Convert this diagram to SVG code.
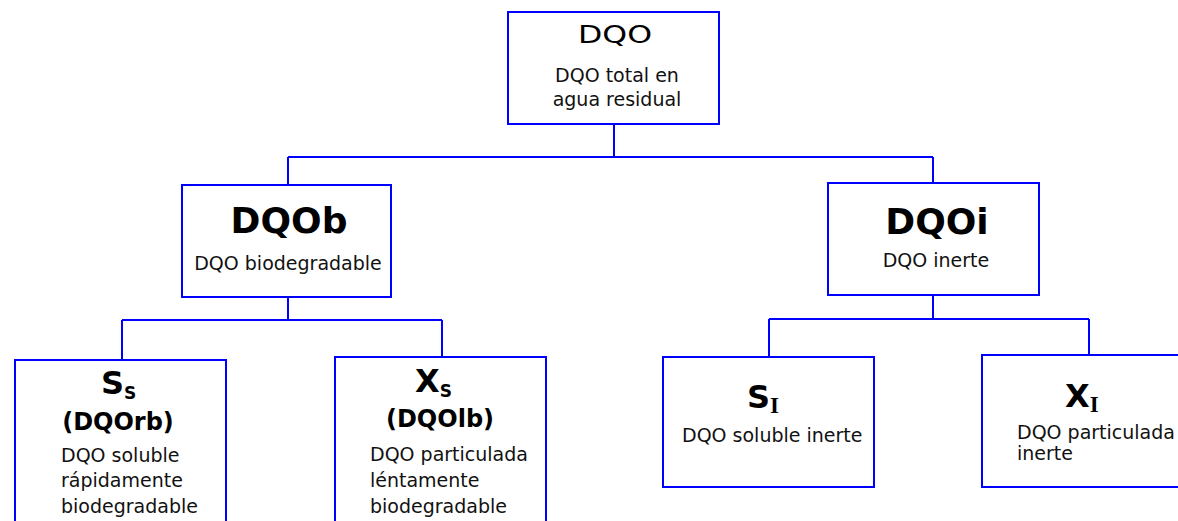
<svg xmlns="http://www.w3.org/2000/svg" width="1178" height="521" viewBox="0 0 1178 521">
<style>
.box{fill:#fff;stroke:#0000ff;stroke-width:2}
.ln{fill:none;stroke:#0000ff;stroke-width:2}
.t{font-family:"DejaVu Sans",Verdana,sans-serif;font-size:19px;fill:#111}
.big{font-family:"DejaVu Sans",Verdana,sans-serif;font-size:36px;font-weight:bold;fill:#000;text-anchor:middle}
.mid{font-family:"DejaVu Sans",Verdana,sans-serif;font-size:24px;font-weight:bold;fill:#000;text-anchor:middle}
.sym{font-family:"DejaVu Sans",Verdana,sans-serif;font-size:32px;font-weight:bold;fill:#000}
.sub{font-family:"DejaVu Sans",Verdana,sans-serif;font-size:17px;font-weight:bold;fill:#000}
.subI{font-family:"Liberation Serif","Times New Roman",serif;font-size:23px;font-weight:bold;fill:#000}
.c{text-anchor:middle}
</style>
<rect width="1178" height="521" fill="#fff"/>
<g id="connectors">
<path class="ln" d="M614 124 V157 M288 157 H933 M288 157 V185 M933 157 V183"/>
<path class="ln" d="M288 297 V320 M122 320 H442 M122 320 V360 M442 320 V357"/>
<path class="ln" d="M933 295 V319 M769 319 H1089 M769 319 V357 M1089 319 V355"/>
</g>
<g id="dqo">
<rect class="box" x="508" y="12" width="211" height="112"/>
<text x="615" y="43" font-family="DejaVu Sans,Verdana,sans-serif" font-size="25" fill="#000" text-anchor="middle" textLength="74" lengthAdjust="spacingAndGlyphs">DQO</text>
<text class="t c" x="617" y="82">DQO total en</text>
<text class="t c" x="617" y="106">agua residual</text>
</g>
<g id="dqob">
<rect class="box" x="182" y="185" width="209" height="112"/>
<text class="big" x="289" y="233">DQOb</text>
<text class="t c" x="288" y="270">DQO biodegradable</text>
</g>
<g id="dqoi">
<rect class="box" x="828" y="183" width="211" height="112"/>
<text class="big" x="937" y="234">DQOi</text>
<text class="t c" x="936" y="267">DQO inerte</text>
</g>
<g id="ss">
<rect class="box" x="15" y="360" width="211" height="240"/>
<text x="101" y="394"><tspan class="sym">S</tspan><tspan class="sub" dy="5">S</tspan></text>
<text class="mid" x="118" y="430">(DQOrb)</text>
<text class="t" x="61" y="462">DQO soluble</text>
<text class="t" x="61" y="487">rápidamente</text>
<text class="t" x="61" y="513">biodegradable</text>
</g>
<g id="xs">
<rect class="box" x="335" y="357" width="211" height="240"/>
<text x="415" y="392"><tspan class="sym">X</tspan><tspan class="sub" dy="5">S</tspan></text>
<text class="mid" x="440" y="427">(DQOlb)</text>
<text class="t" x="370" y="461">DQO particulada</text>
<text class="t" x="370" y="487">léntamente</text>
<text class="t" x="370" y="513">biodegradable</text>
</g>
<g id="si">
<rect class="box" x="663" y="357" width="211" height="130"/>
<text x="747" y="408"><tspan class="sym">S</tspan><tspan class="subI" dy="5">I</tspan></text>
<text class="t" x="682" y="442">DQO soluble inerte</text>
</g>
<g id="xi">
<rect class="box" x="982" y="355" width="260" height="132"/>
<text x="1065" y="407"><tspan class="sym">X</tspan><tspan class="subI" dy="5">I</tspan></text>
<text class="t" x="1017" y="439">DQO particulada</text>
<text class="t" x="1017" y="460">inerte</text>
</g>
</svg>
